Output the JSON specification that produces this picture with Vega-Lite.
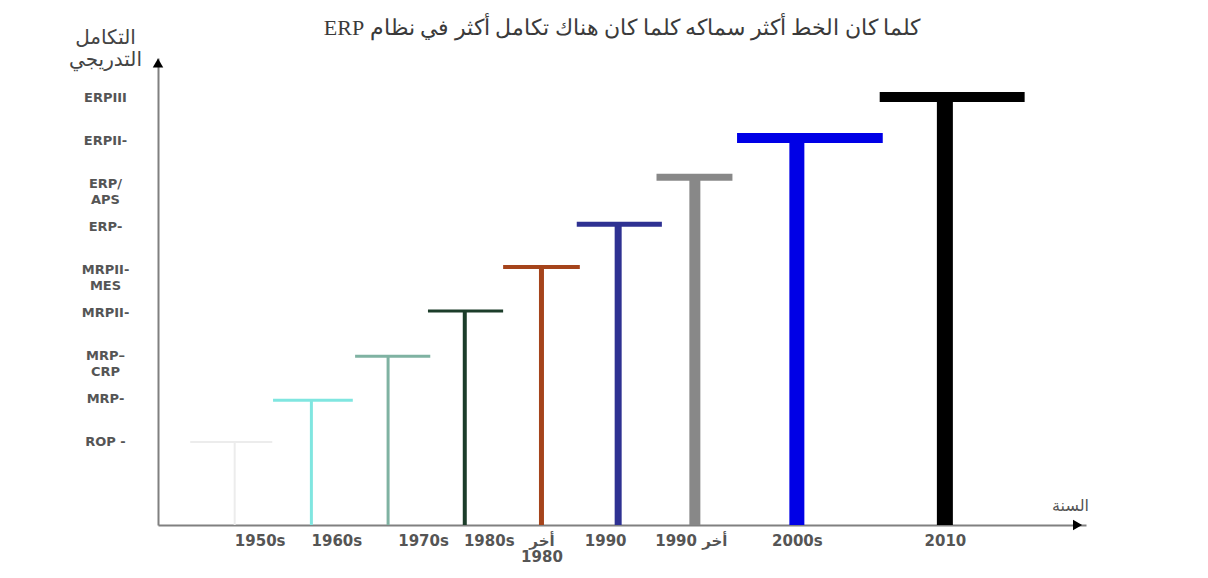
{
  "$schema": "https://vega.github.io/schema/vega-lite/v6.json",
  "width": 928,
  "height": 467,
  "autosize": {"type": "none"},
  "padding": {"left": 158, "top": 58, "right": 122, "bottom": 53},
  "background": "white",
  "title": {
    "text": "\u202bكلما كان الخط أكثر سماكه كلما كان هناك تكامل أكثر في نظام ERP\u202c",
    "anchor": "middle",
    "frame": "group",
    "baseline": "middle",
    "offset": -23,
    "font": "Liberation Serif",
    "fontSize": 22,
    "fontWeight": "normal",
    "color": "#3a3a3a"
  },
  "config": {"view": {"stroke": null}},
  "data": {
    "values": [
      {"name": "ROP", "step": 1, "level": 1, "top": 1.0, "x0": 0.42, "x1": 1.49},
      {"name": "MRP", "step": 2, "level": 2, "top": 1.97, "x0": 1.5, "x1": 2.54},
      {"name": "MRP-CRP", "step": 3, "level": 3, "top": 2.99, "x0": 2.57, "x1": 3.55},
      {"name": "MRPII", "step": 4, "level": 4, "top": 4.04, "x0": 3.52, "x1": 4.5},
      {"name": "MRPII-MES", "step": 5, "level": 5, "top": 5.06, "x0": 4.5, "x1": 5.5},
      {"name": "ERP", "step": 6, "level": 6, "top": 6.05, "x0": 5.46, "x1": 6.57},
      {"name": "ERP/APS", "step": 7, "level": 7, "top": 7.14, "x0": 6.5, "x1": 7.49},
      {"name": "ERPII", "step": 8.33, "level": 8, "top": 8.05, "x0": 7.55, "x1": 9.45},
      {"name": "ERPIII", "step": 10.26, "level": 9, "top": 9.0, "x0": 9.41, "x1": 11.3}
    ]
  },
  "layer": [
    {
      "mark": {"type": "rule"},
      "encoding": {
        "x": {
          "field": "step",
          "type": "quantitative",
          "scale": {"domain": [0, 12.1], "nice": false, "zero": false},
          "axis": {
            "values": [1, 2, 3, 4, 5, 6, 7, 8.33, 10.26],
            "labelExpr": "['1950s','1960s','1970s','1980s',['أخر','1980'],'1990','أخر 1990','2000s','2010'][indexof([1,2,3,4,5,6,7,8.33,10.26], datum.value)]",
            "labelOffset": {
              "condition": [
                {"test": "datum.value == 1 || datum.value == 2", "value": 25},
                {"test": "datum.value == 3", "value": 35},
                {"test": "datum.value == 4", "value": 24},
                {"test": "datum.value == 6", "value": -13},
                {"test": "datum.value == 7", "value": -4}
              ],
              "value": 0
            },
            "title": "السنة",
            "titleX": 912,
            "titleY": -20,
            "titleAngle": 0,
            "titleAlign": "center",
            "titleBaseline": "middle",
            "titleFont": "DejaVu Sans",
            "titleFontSize": 16,
            "titleFontWeight": "normal",
            "titleColor": "#555555",
            "labelFont": "DejaVu Sans",
            "labelFontSize": 15,
            "labelFontWeight": "bold",
            "labelColor": "#555555",
            "labelPadding": 8,
            "labelLineHeight": 16,
            "labelBaseline": "top",
            "labelOverlap": false,
            "labelFlush": false,
            "ticks": false,
            "grid": false,
            "domainColor": "#808080",
            "domainWidth": 2
          }
        },
        "y": {
          "field": "top",
          "type": "quantitative",
          "scale": {"domain": [-0.925, 9.905], "nice": false, "zero": false},
          "axis": {
            "values": [1, 2, 3, 4, 5, 6, 7, 8, 9],
            "labelExpr": "['', 'ROP -', 'MRP-', ['MRP–', 'CRP'], 'MRPII-', ['MRPII-', 'MES'], 'ERP-', ['ERP/', 'APS'], 'ERPII-', 'ERPIII'][datum.value]",
            "title": ["التكامل", "التدريجي"],
            "titleX": -53,
            "titleY": -21,
            "titleAngle": 0,
            "titleAlign": "center",
            "titleBaseline": "middle",
            "titleLineHeight": 22,
            "titleFont": "DejaVu Sans",
            "titleFontSize": 20,
            "titleFontWeight": "normal",
            "titleColor": "#444444",
            "labelFont": "DejaVu Sans",
            "labelFontSize": 13,
            "labelFontWeight": "bold",
            "labelColor": "#555555",
            "labelAlign": "center",
            "labelBaseline": "middle",
            "labelPadding": 53,
            "labelLineHeight": 16,
            "labelOverlap": false,
            "labelFlush": false,
            "ticks": false,
            "grid": false,
            "domainColor": "#808080",
            "domainWidth": 2
          }
        },
        "y2": {"datum": -0.925},
        "color": {
          "field": "name",
          "type": "nominal",
          "scale": {
            "domain": ["ROP", "MRP", "MRP-CRP", "MRPII", "MRPII-MES", "ERP", "ERP/APS", "ERPII", "ERPIII"],
            "range": ["#ececec", "#80e6e0", "#7fb2a2", "#1c3d2a", "#a5441b", "#2e3192", "#888888", "#0000e6", "#000000"]
          },
          "legend": null
        },
        "strokeWidth": {
          "field": "level",
          "type": "ordinal",
          "scale": {"type": "ordinal", "domain": [1, 2, 3, 4, 5, 6, 7, 8, 9], "range": [2, 3, 3, 4, 5, 7, 11, 15, 16]},
          "legend": null
        }
      }
    },
    {
      "mark": {"type": "rule"},
      "encoding": {
        "x": {"field": "x0", "type": "quantitative"},
        "x2": {"field": "x1"},
        "y": {"field": "top", "type": "quantitative"},
        "color": {"field": "name", "type": "nominal", "legend": null},
        "strokeWidth": {
          "field": "level",
          "type": "ordinal",
          "scale": {"type": "ordinal", "domain": [1, 2, 3, 4, 5, 6, 7, 8, 9], "range": [2, 3, 3, 3, 4, 5, 7, 10, 10]},
          "legend": null
        }
      }
    },
    {
      "data": {"values": [{}]},
      "mark": {"type": "point", "shape": "triangle-up", "filled": true, "color": "#000000", "opacity": 1, "size": 110},
      "encoding": {
        "x": {"datum": 0, "type": "quantitative"},
        "y": {"datum": 9.79, "type": "quantitative"}
      }
    },
    {
      "data": {"values": [{}]},
      "mark": {"type": "point", "shape": "triangle-right", "filled": true, "color": "#000000", "opacity": 1, "size": 110},
      "encoding": {
        "x": {"datum": 11.99, "type": "quantitative"},
        "y": {"datum": -0.925, "type": "quantitative"}
      }
    }
  ],
  "resolve": {"scale": {"strokeWidth": "independent"}}
}
